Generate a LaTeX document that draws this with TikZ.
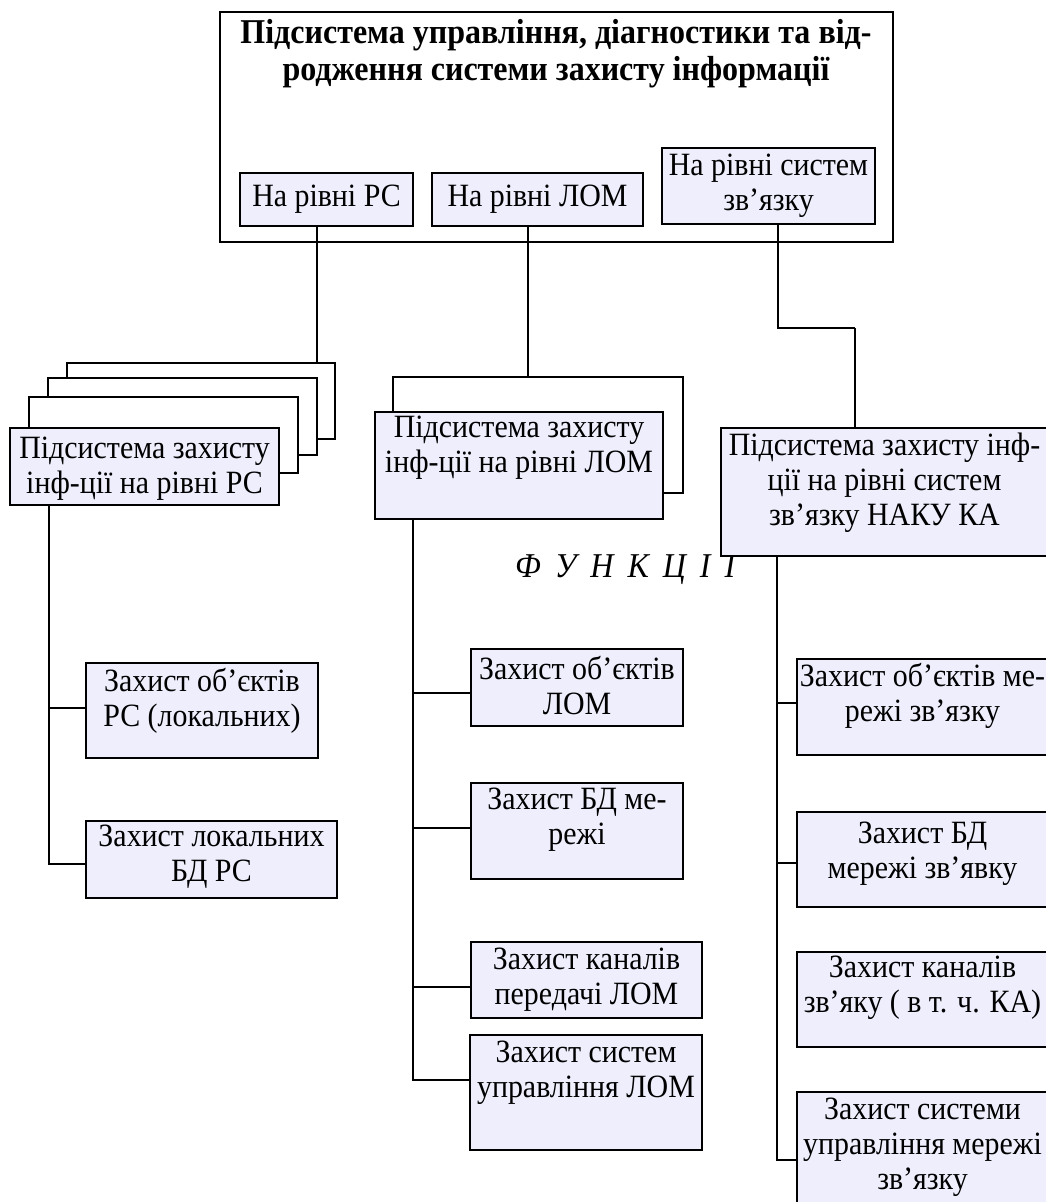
\documentclass[tikz,border=0pt]{standalone}
\usepackage{fontspec}
\setmainfont{Liberation Serif}[FakeStretch=0.92]
\usetikzlibrary{fit}
\definecolor{boxfill}{RGB}{238,238,253}
% box: name, x1, y1, x2, y2, text centre y, text
\newcommand{\bx}[7]{%
  \node[box, fit={(#2,#3) (#4,#5)}] (#1) {};
  \node[txt] (#1t) at ({(#2+#4)/2},#6) {#7};}
\begin{document}
\begin{tikzpicture}[x=1pt,y=-1pt,
  wire/.style={line width=1.6pt},
  box/.style={draw, line width=1.6pt, fill=boxfill, inner sep=0pt},
  backbox/.style={draw, line width=1.6pt, fill=white, inner sep=0pt},
  txt/.style={align=center, font=\fontsize{32.5}{35}\selectfont, inner sep=0pt},
  ttl/.style={align=center, font=\bfseries\fontsize{34.8}{37}\selectfont, inner sep=0pt},
]
\useasboundingbox (0,0) rectangle (1046,1202);

% top-level subsystem
\node[backbox, fit={(220,12) (893,242)}] (top) {};
\node[ttl] (topt) at (556,54) {Підсистема управління, діагностики та від-\\родження системи захисту інформації};
\bx{rs}{240}{173}{413}{226}{199}{На рівні РС}
\bx{lom}{432}{173}{643}{226}{199}{На рівні ЛОМ}
\bx{zv}{662}{148}{875}{224}{186}{На рівні систем\\зв’язку}

\coordinate (xa) at (317,0);
\coordinate (xb) at (528,0);
\coordinate (xc) at (778,0);
\coordinate (bend) at (855,328);

% stacked workstation subsystems
\node[backbox, fit={(67,363) (335,439)}] (st4) {};
\draw[wire] (rs.south -| xa) -- (xa |- st4.north);
\node[backbox, fit={(48,378) (317,455)}] (st3) {};
\node[backbox, fit={(29,397) (298,473)}] (st2) {};
\bx{lf}{10}{428}{279}{505}{469}{Підсистема захисту\\інф-ції на рівні РС}

% LAN subsystem with its shadow frame
\node[backbox, fit={(393,377) (683,493)}] (mb) {};
\draw[wire] (lom.south -| xb) -- (xb |- mb.north);
\bx{mf}{375}{412}{663}{519}{448}{Підсистема захисту\\інф-ції на рівні ЛОМ}

% functions caption
\node[anchor=base west, inner sep=0pt, font=\itshape\fontsize{34.8}{35}\selectfont] (fn) at (515,577)
  {\spaceskip=14pt Ф У Н К Ц І Ї};

% communication-system subsystem
\draw[wire] (zv.south -| xc) |- (bend);
\bx{rf}{721}{428}{1048}{556}{483}{Підсистема захисту інф-\\ції на рівні систем\\зв’язку НАКУ КА}
\draw[wire] (bend) -- (bend |- rf.north);

% left column
\coordinate (lt) at (49,0);
\bx{l1}{86}{663}{318}{758}{701}{Захист об’єктів\\РС (локальних)}
\bx{l2}{86}{821}{337}{898}{857}{Захист локальних\\БД РС}
\draw[wire] (lt |- lf.south) |- (l2.west |- 0,864);
\draw[wire] (lt |- 0,708) -- (l1.west |- 0,708);

% middle column
\coordinate (mt) at (413,0);
\bx{m1}{471}{649}{683}{726}{686}{Захист об’єктів\\ЛОМ}
\bx{m2}{471}{783}{683}{879}{820}{Захист БД ме-\\режі}
\bx{m3}{471}{942}{702}{1018}{980}{Захист каналів\\передачі ЛОМ}
\bx{m4}{470}{1035}{702}{1150}{1073}{Захист систем\\управління ЛОМ}
\draw[wire] (mt |- mf.south) |- (m4.west |- 0,1080);
\draw[wire] (mt |- 0,693) -- (m1.west |- 0,693);
\draw[wire] (mt |- 0,828) -- (m2.west |- 0,828);
\draw[wire] (mt |- 0,987) -- (m3.west |- 0,987);

% right column
\coordinate (rt) at (777,0);
\bx{r1}{797}{659}{1048}{755}{696}{Захист об’єктів ме-\\режі зв’язку}
\bx{r2}{797}{812}{1048}{907}{854}{Захист БД\\мережі зв’явку}
\bx{r3}{797}{952}{1048}{1047}{988}{Захист каналів\\зв’яку ( в т. ч. КА)}
\bx{r4}{797}{1092}{1048}{1210}{1147}{Захист системи\\управління мережі\\зв’язку}
\draw[wire] (rt |- rf.south) |- (r4.west |- 0,1160);
\draw[wire] (rt |- 0,703) -- (r1.west |- 0,703);
\draw[wire] (rt |- 0,863) -- (r2.west |- 0,863);
\end{tikzpicture}
\end{document}
